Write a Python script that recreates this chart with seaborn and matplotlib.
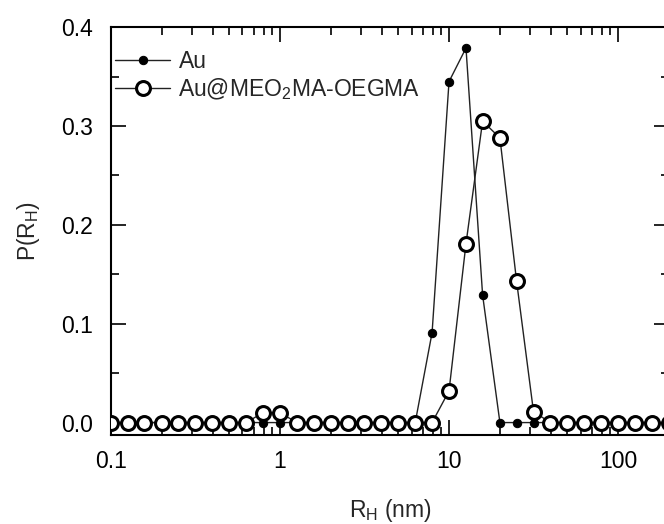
import numpy as np
import pandas as pd
import matplotlib
matplotlib.use('Agg')
import matplotlib.pyplot as plt
import matplotlib.ticker as mticker
import seaborn as sns

# hydrodynamic radius grid (nm), 10 points per decade
r_h = [0.1, 0.126, 0.158, 0.2, 0.251, 0.316, 0.398, 0.501, 0.631, 0.794,
       1.0, 1.26, 1.58, 2.0, 2.51, 3.16, 3.98, 5.01, 6.31, 7.94,
       10.0, 12.6, 15.8, 20.0, 25.1, 31.6, 39.8, 50.1, 63.1, 79.4,
       100.0, 126.0, 158.0, 200.0]

# P(R_H) for bare Au
p_au = [0, 0, 0, 0, 0, 0, 0, 0, 0, 0,
        0, 0, 0, 0, 0, 0, 0, 0, 0, 0.091,
        0.345, 0.379, 0.129, 0, 0, 0, 0, 0, 0, 0,
        0, 0, 0, 0]

# P(R_H) for coated Au
p_coated = [0, 0, 0, 0, 0, 0, 0, 0, 0, 0.010,
            0.010, 0, 0, 0, 0, 0, 0, 0, 0, 0,
            0.032, 0.181, 0.305, 0.288, 0.143, 0.011, 0, 0, 0, 0,
            0, 0, 0, 0]

label_au = 'Au'
label_coated = 'Au@MEO$_2$MA-OEGMA'

sns.set_style('ticks')
plt.rcParams['font.family'] = ['Liberation Sans', 'DejaVu Sans']
plt.rcParams['mathtext.fontset'] = 'custom'
plt.rcParams['mathtext.rm'] = 'Liberation Sans'
plt.rcParams['mathtext.it'] = 'Liberation Sans:italic'
plt.rcParams['mathtext.default'] = 'regular'

df = pd.DataFrame({'R': r_h, 'Au': p_au, 'Coated': p_coated})

fig = plt.figure(figsize=(6.64, 5.24), dpi=100)
ax = fig.add_axes([0.167, 0.170, 0.8405, 0.778])

sns.lineplot(data=df, x='R', y='Au', ax=ax, color='#222222', lw=1,
             marker='o', markersize=6, markerfacecolor='black',
             markeredgecolor='black', label=label_au, zorder=2)
sns.lineplot(data=df, x='R', y='Coated', ax=ax, color='#222222', lw=1,
             marker='o', markersize=10, markerfacecolor='white',
             markeredgecolor='black', markeredgewidth=2.2,
             label=label_coated, zorder=3)

ax.set_xscale('log')
ax.set_xlim(0.1, 200)
ax.set_ylim(-0.0125, 0.4)

ax.xaxis.set_major_locator(mticker.FixedLocator([0.1, 1, 10, 100]))
ax.xaxis.set_major_formatter(mticker.FixedFormatter(['0.1', '1', '10', '100']))
ax.xaxis.set_minor_locator(mticker.LogLocator(base=10, subs=np.arange(2, 10)))
ax.xaxis.set_minor_formatter(mticker.NullFormatter())
ax.yaxis.set_major_locator(mticker.MultipleLocator(0.1))
ax.yaxis.set_minor_locator(mticker.MultipleLocator(0.05))
ax.yaxis.set_major_formatter(mticker.FormatStrFormatter('%.1f'))

ax.tick_params(which='both', direction='in', top=True, right=True,
               width=1.2, colors='black', labelsize=16.5)
ax.tick_params(which='major', length=11)
ax.tick_params(which='minor', length=6)
ax.tick_params(axis='x', which='major', pad=11)
ax.tick_params(axis='y', which='major', pad=13)
ax.set_axisbelow(False)

for s in ax.spines.values():
    s.set_linewidth(1.5)
    s.set_color('black')

ax.set_xlabel('R$_H$ (nm)', fontsize=16.5, labelpad=17)
ax.set_ylabel('P(R$_H$)', fontsize=16.5, labelpad=14)

ax.legend(loc='upper left', bbox_to_anchor=(0.0, 0.955), frameon=False,
          fontsize=16.5, handlelength=2.4, handletextpad=0.35,
          labelspacing=0.15, borderaxespad=0.0, borderpad=0.2)

plt.savefig('out.png', dpi=100)
plt.close()
